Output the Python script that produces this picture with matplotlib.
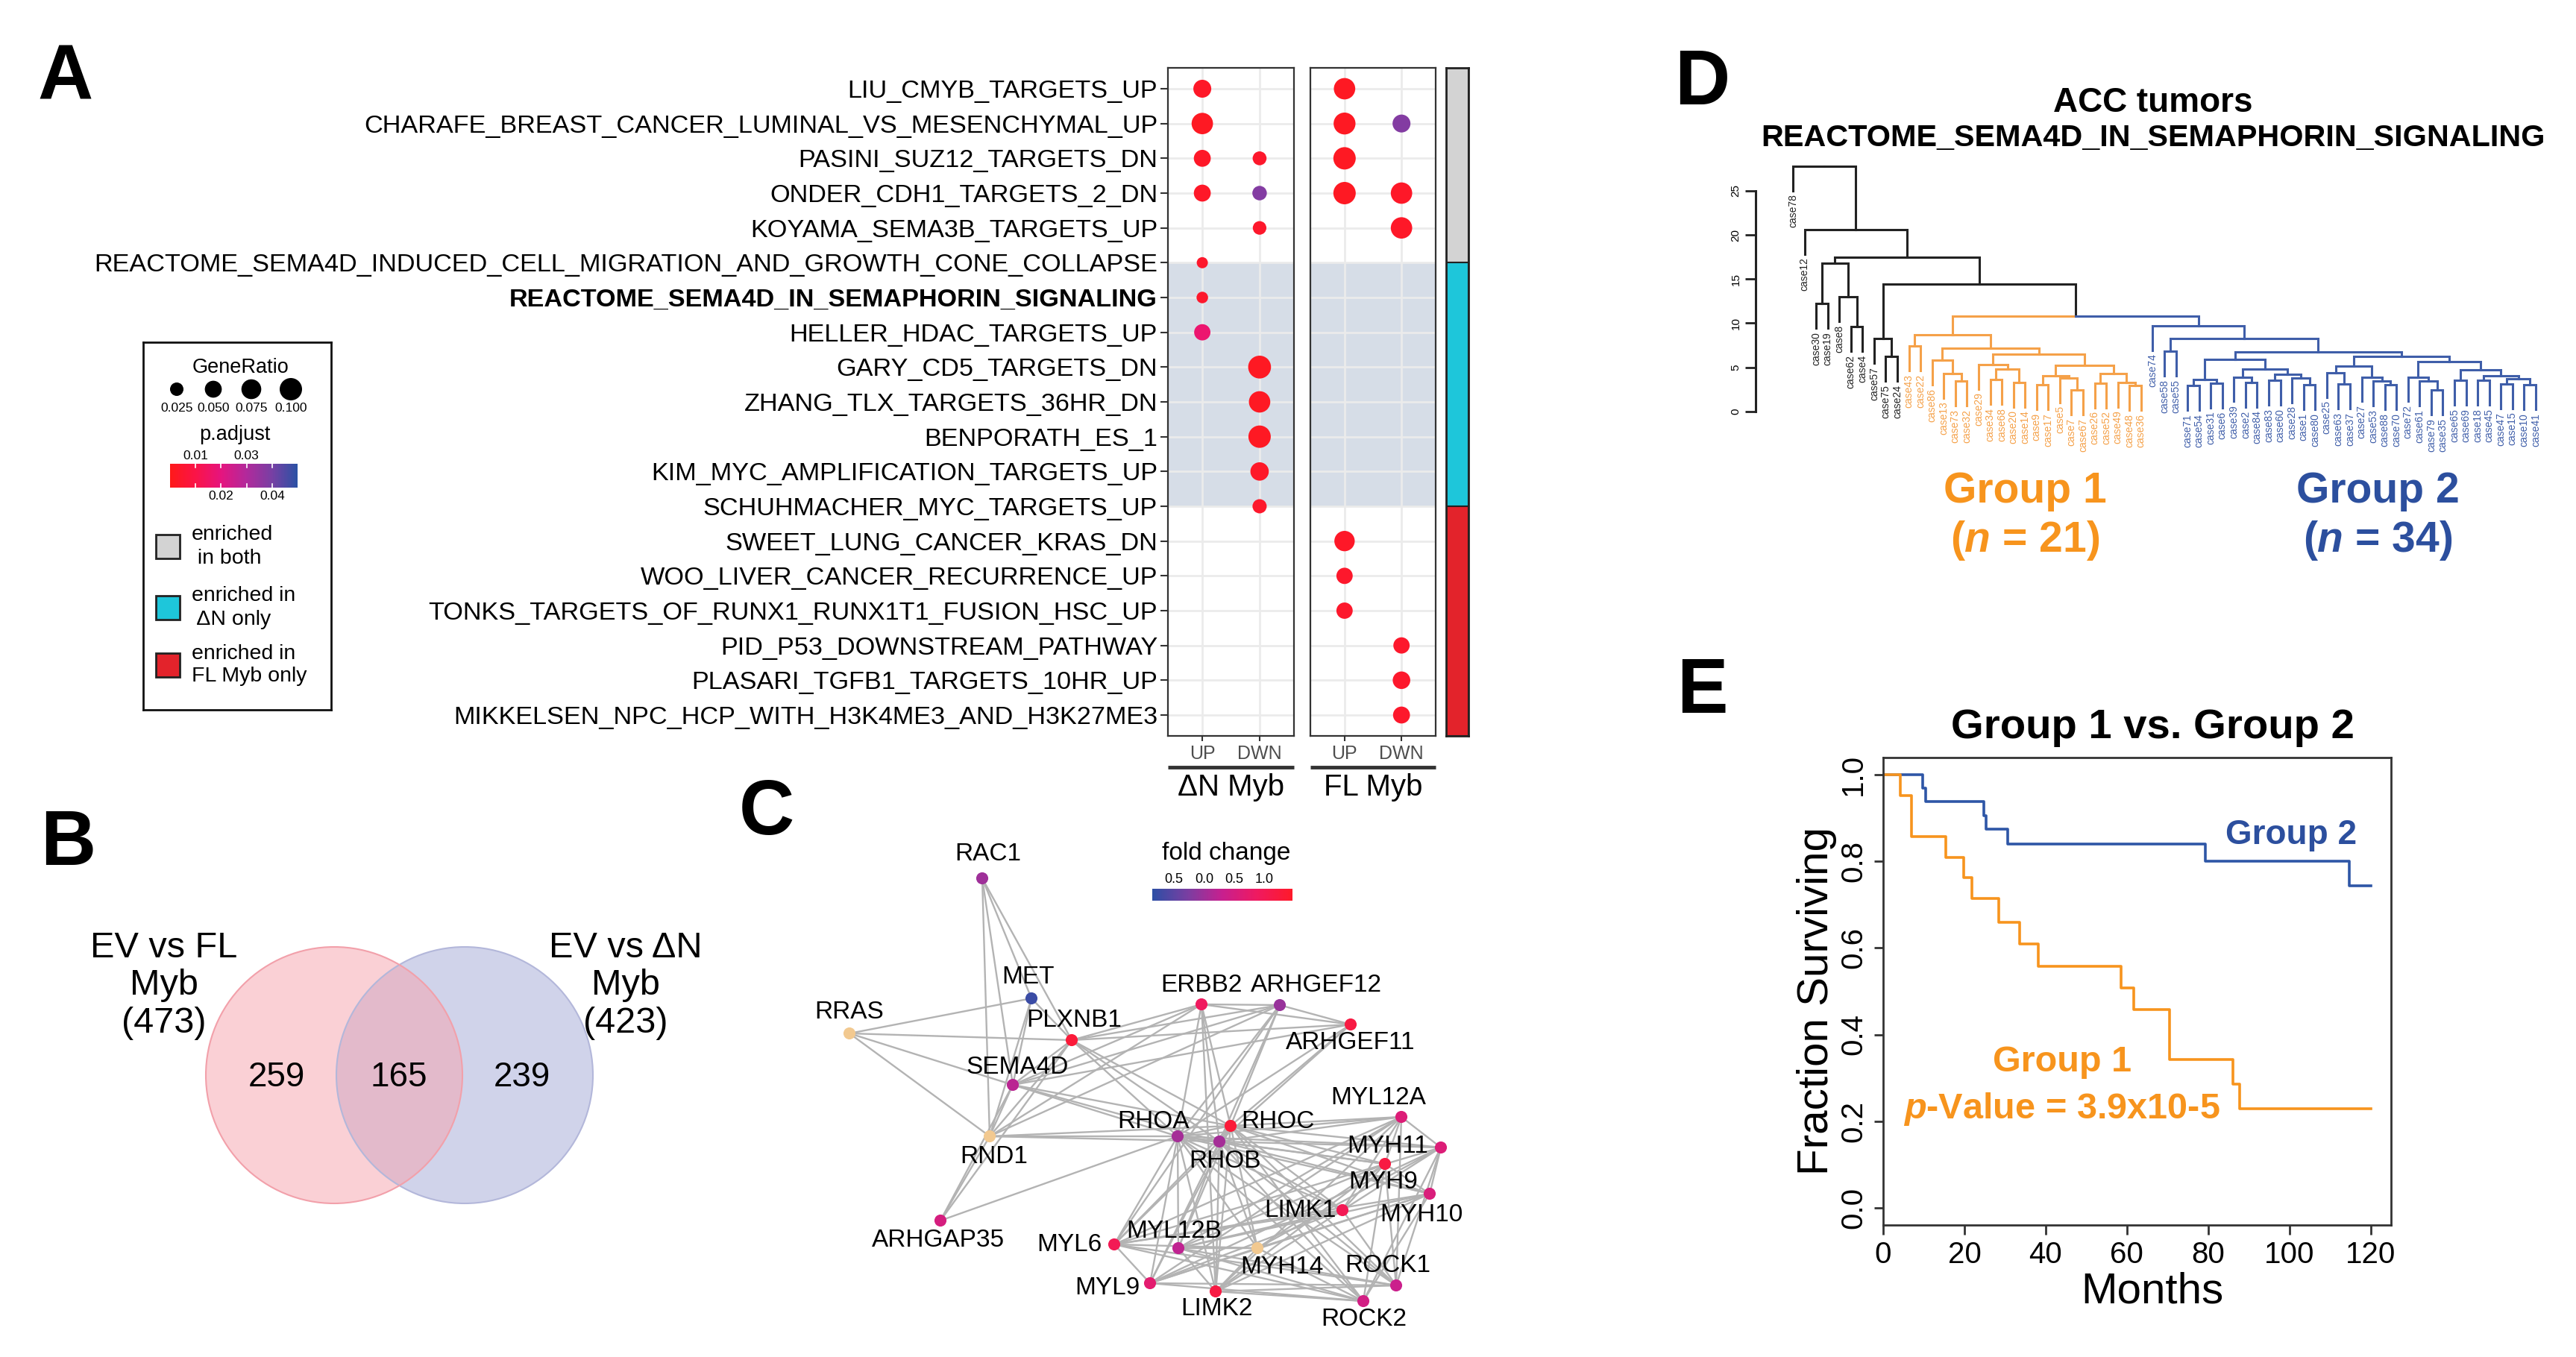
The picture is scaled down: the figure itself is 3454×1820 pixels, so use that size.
import numpy as np
import matplotlib
matplotlib.use("Agg")
import matplotlib.pyplot as plt
from matplotlib.colors import LinearSegmentedColormap, Normalize
from matplotlib.patches import Circle, Rectangle

plt.rcParams['font.family'] = ['Liberation Sans', 'DejaVu Sans']
plt.rcParams['mathtext.fontset'] = 'custom'
plt.rcParams['mathtext.it'] = 'Liberation Sans:italic:bold'
plt.rcParams['mathtext.rm'] = 'Liberation Sans:bold'

n = np.nan

# ---------------- A: enrichment dot plot ----------------
gene_sets = ['LIU_CMYB_TARGETS_UP',
             'CHARAFE_BREAST_CANCER_LUMINAL_VS_MESENCHYMAL_UP',
             'PASINI_SUZ12_TARGETS_DN',
             'ONDER_CDH1_TARGETS_2_DN',
             'KOYAMA_SEMA3B_TARGETS_UP',
             'REACTOME_SEMA4D_INDUCED_CELL_MIGRATION_AND_GROWTH_CONE_COLLAPSE',
             'REACTOME_SEMA4D_IN_SEMAPHORIN_SIGNALING',
             'HELLER_HDAC_TARGETS_UP',
             'GARY_CD5_TARGETS_DN',
             'ZHANG_TLX_TARGETS_36HR_DN',
             'BENPORATH_ES_1',
             'KIM_MYC_AMPLIFICATION_TARGETS_UP',
             'SCHUHMACHER_MYC_TARGETS_UP',
             'SWEET_LUNG_CANCER_KRAS_DN',
             'WOO_LIVER_CANCER_RECURRENCE_UP',
             'TONKS_TARGETS_OF_RUNX1_RUNX1T1_FUSION_HSC_UP',
             'PID_P53_DOWNSTREAM_PATHWAY',
             'PLASARI_TGFB1_TARGETS_10HR_UP',
             'MIKKELSEN_NPC_HCP_WITH_H3K4ME3_AND_H3K27ME3']
highlight_set = 'REACTOME_SEMA4D_IN_SEMAPHORIN_SIGNALING'
enrich_group = ['both'] * 5 + ['dN'] * 8 + ['FL'] * 6

dn_up_ratio = [0.058, 0.09, 0.05, 0.05, n, 0.012, 0.014, 0.045, n, n, n, n, n, n, n, n, n, n, n]
dn_up_padj = [0.003, 0.002, 0.003, 0.003, n, 0.004, 0.004, 0.017, n, n, n, n, n, n, n, n, n, n, n]
dn_dwn_ratio = [n, n, 0.028, 0.032, 0.026, n, n, n, 0.105, 0.09, 0.1, 0.062, 0.03, n, n, n, n, n, n]
dn_dwn_padj = [n, n, 0.004, 0.038, 0.004, n, n, n, 0.002, 0.002, 0.002, 0.003, 0.004, n, n, n, n, n, n]
fl_up_ratio = [0.09, 0.095, 0.1, 0.1, n, n, n, n, n, n, n, n, n, 0.08, 0.045, 0.045, n, n, n]
fl_up_padj = [0.002, 0.002, 0.002, 0.002, n, n, n, n, n, n, n, n, n, 0.003, 0.004, 0.004, n, n, n]
fl_dwn_ratio = [n, 0.058, n, 0.09, 0.09, n, n, n, n, n, n, n, n, n, n, n, 0.045, 0.055, 0.05]
fl_dwn_padj = [n, 0.038, n, 0.003, 0.003, n, n, n, n, n, n, n, n, n, n, n, 0.004, 0.004, 0.004]
direction_labels = ['UP', 'DWN']
legend_ratios = [0.025, 0.050, 0.075, 0.100]
legend_ratio_labels = ['0.025', '0.050', '0.075', '0.100']
legend_padj_ticks = [0.01, 0.02, 0.03, 0.04]
group_legend = [('both', 'enriched\n in both'), ('dN', 'enriched in\n ΔN only'), ('FL', 'enriched in\nFL Myb only')]

# ---------------- B: Venn ----------------
venn_left_label = 'EV vs FL\nMyb\n(473)'
venn_right_label = 'EV vs ΔN\nMyb\n(423)'
venn_counts = [259, 165, 239]

# ---------------- C: network ----------------
genes = ['RAC1', 'MET', 'RRAS', 'PLXNB1', 'SEMA4D', 'ERBB2', 'ARHGEF12', 'ARHGEF11',
         'RND1', 'RHOA', 'RHOC', 'RHOB', 'MYL12A', 'MYH11', 'MYH9', 'MYH10', 'LIMK1',
         'ARHGAP35', 'MYL6', 'MYL12B', 'MYH14', 'ROCK1', 'MYL9', 'LIMK2', 'ROCK2']
layout_x = [1317, 1383, 1139, 1437, 1358, 1611, 1716, 1811, 1327, 1579, 1650, 1635, 1879,
            1932, 1857, 1917, 1800, 1261, 1494, 1580, 1686, 1872, 1542, 1630, 1828]
layout_y = [1178, 1339, 1386, 1395, 1455, 1347, 1348, 1374, 1524, 1524, 1510, 1531, 1498,
            1539, 1561, 1601, 1623, 1637, 1669, 1674, 1674, 1724, 1721, 1732, 1745]
fold_change = [0.0, -0.75, n, 1.3, 0.2, 0.9, -0.05, 1.2, n, 0.05, 1.3, 0.05, 0.6,
               0.6, 1.2, 0.55, 1.0, 0.5, 1.0, 0.25, n, 0.35, 0.7, 1.2, 0.45]
fc_ticks = [-0.5, 0.0, 0.5, 1.0]
fc_tick_labels = ['0.5', '0.0', '0.5', '1.0']
hub = ['RHOA', 'RHOB', 'RHOC']
myo = ['MYL12A', 'MYH11', 'MYH9', 'MYH10', 'LIMK1', 'MYL6', 'MYL12B', 'MYH14',
       'ROCK1', 'MYL9', 'LIMK2', 'ROCK2']
edges = [('RAC1', 'MET'), ('RAC1', 'PLXNB1'), ('RAC1', 'SEMA4D'), ('RAC1', 'RND1'),
         ('RRAS', 'MET'), ('RRAS', 'PLXNB1'), ('RRAS', 'SEMA4D'), ('RRAS', 'RND1'),
         ('MET', 'PLXNB1'), ('MET', 'SEMA4D'), ('MET', 'RND1'),
         ('ARHGAP35', 'SEMA4D'), ('ARHGAP35', 'PLXNB1'), ('ARHGAP35', 'RND1'), ('ARHGAP35', 'RHOA'),
         ('PLXNB1', 'SEMA4D'), ('PLXNB1', 'RND1'), ('PLXNB1', 'ERBB2'), ('PLXNB1', 'ARHGEF12'),
         ('PLXNB1', 'ARHGEF11'), ('PLXNB1', 'RHOA'), ('PLXNB1', 'RHOB'), ('PLXNB1', 'RHOC'),
         ('SEMA4D', 'RND1'), ('SEMA4D', 'ERBB2'), ('SEMA4D', 'ARHGEF12'), ('SEMA4D', 'ARHGEF11'),
         ('SEMA4D', 'RHOA'), ('SEMA4D', 'RHOB'), ('SEMA4D', 'RHOC'),
         ('RND1', 'ERBB2'), ('RND1', 'ARHGEF12'), ('RND1', 'RHOA'), ('RND1', 'RHOB'), ('RND1', 'RHOC'),
         ('ERBB2', 'ARHGEF12'), ('ERBB2', 'ARHGEF11'), ('ERBB2', 'RHOA'), ('ERBB2', 'RHOB'),
         ('ERBB2', 'RHOC'), ('ERBB2', 'LIMK2'),
         ('ARHGEF12', 'ARHGEF11'), ('ARHGEF12', 'RHOA'), ('ARHGEF12', 'RHOB'), ('ARHGEF12', 'RHOC'),
         ('ARHGEF12', 'MYL6'), ('ARHGEF11', 'RHOA'), ('ARHGEF11', 'RHOB'), ('ARHGEF11', 'RHOC'),
         ('RHOA', 'RHOB'), ('RHOA', 'RHOC'), ('RHOB', 'RHOC')]
edges += [(h, m) for h in hub for m in myo]
edges += [(myo[i], myo[j]) for i in range(len(myo)) for j in range(i + 1, len(myo))
          if (i + j) % 4 != 3]

# ---------------- D: dendrogram ----------------
orange_tree = (8.7,
               (7.4, 'case43', 'case22'),
               (7.2,
                (5.8, 'case86', (4.3, 'case13', (3.4, 'case73', 'case32'))),
                (6.5,
                 (5.3, 'case29', (4.8, (3.6, 'case34', 'case68'), (3.3, 'case20', 'case14'))),
                 (5.2,
                  (4.0, (3.0, 'case9', 'case17'), (3.8, 'case5', (2.4, 'case7', 'case67'))),
                  (4.3, (3.2, 'case26', 'case52'), (3.3, 'case49', (2.9, 'case48', 'case36')))))))
blue_tree = (9.7, 'case74',
             (8.25,
              (6.8, 'case58', 'case55'),
              (6.7,
               (5.9,
                (3.6, (2.9, 'case71', 'case54'), (3.2, 'case31', 'case6')),
                (4.8, (3.9, 'case39', (3.3, 'case2', 'case84')),
                 (4.2, (3.5, 'case83', 'case60'), (3.8, 'case28', (3.0, 'case1', 'case80'))))),
               (6.2,
                (5.1, (4.4, 'case25', (3.1, 'case63', 'case37')),
                 (3.9, 'case27', (3.4, 'case53', (3.0, 'case88', 'case70')))),
                (5.6,
                 (3.9, 'case72', (3.4, 'case61', (2.4, 'case79', 'case35'))),
                 (4.7, (3.5, 'case65', 'case69'),
                  (4.0, (3.5, 'case18', 'case45'),
                   (3.7, (3.1, 'case47', 'case15'), (3.0, 'case10', 'case41')))))))))
full_tree = (27.8, 'case78',
             (20.6, 'case12',
              (17.5,
               (16.8, (12.2, 'case30', 'case19'), (13.0, 'case8', (9.6, 'case62', 'case4'))),
               (14.4, (8.25, 'case57', (6.2, 'case75', 'case24')),
                (10.8, orange_tree, blue_tree)))))
group1_label = 'Group 1'
group2_label = 'Group 2'
group1_n = 21
group2_n = 34

# ---------------- E: survival ----------------
g2_time = [0, 9.7, 10.4, 24.8, 25.4, 30.6, 79.3, 114.8, 120]
g2_surv = [1.0, 0.969, 0.938, 0.906, 0.875, 0.840, 0.800, 0.744, 0.744]
g1_time = [0, 4.3, 6.9, 15.4, 19.9, 21.8, 28.4, 33.5, 38.2, 58.6, 61.7, 70.5, 86.1, 87.8, 120]
g1_surv = [1.0, 0.952, 0.857, 0.810, 0.762, 0.714, 0.659, 0.610, 0.558, 0.508, 0.457,
           0.343, 0.286, 0.229, 0.229]
p_value_text = '3.9x10-5'

# ======================================================
W, H = 3455, 1820
fig = plt.figure(figsize=(W / 100, H / 100), dpi=100)


def px_axes(x0, y0, x1, y1):
    return fig.add_axes([x0 / W, 1 - y1 / H, (x1 - x0) / W, (y1 - y0) / H])


def px_text(x, y, s, **kw):
    return fig.text(x / W, 1 - y / H, s, **kw)


for letter, lx, ly in [('A', 88, 106), ('B', 91, 1134), ('C', 1028, 1093), ('D', 2282, 113), ('E', 2282, 930)]:
    px_text(lx, ly, letter, fontsize=74, fontweight='bold', ha='center', va='center')

padj_cmap = LinearSegmentedColormap.from_list(
    'padj', ['#ff1a1a', '#fb1448', '#e6157f', '#b22a9c', '#7840a4', '#2b52a5'])
group_colors = {'both': '#d3d3d3', 'dN': '#1ec6da', 'FL': '#e3232b'}


def dot_size(r):
    return (132 + 7680 * np.asarray(r)) / 1.929


rows = np.arange(1, len(gene_sets) + 1)
dn_rows = [i + 1 for i, g in enumerate(enrich_group) if g == 'dN']
panels = [(1566, 1735, 'ΔN Myb', [(dn_up_ratio, dn_up_padj), (dn_dwn_ratio, dn_dwn_padj)]),
          (1757, 1925, 'FL Myb', [(fl_up_ratio, fl_up_padj), (fl_dwn_ratio, fl_dwn_padj)])]
for k, (x0, x1, title, cols) in enumerate(panels):
    ax = px_axes(x0, 91, x1, 987)
    ax.axhspan(min(dn_rows), max(dn_rows), color='#d6dde7', lw=0, zorder=0)
    for j, (ratio, padj) in enumerate(cols):
        ratio = np.array(ratio)
        padj = np.array(padj)
        m = ~np.isnan(ratio)
        ax.scatter(np.full(m.sum(), j + 1), rows[m], s=dot_size(ratio[m]), c=padj[m],
                   cmap=padj_cmap, vmin=0, vmax=0.05, linewidths=0, zorder=3)
    ax.set_xlim(0.4, 2.6)
    ax.set_ylim(len(gene_sets) + 0.6, 0.4)
    ax.set_axisbelow(True)
    ax.grid(True, color='#ebebeb', lw=2)
    ax.set_xticks([1, 2])
    ax.set_xticklabels(direction_labels, fontsize=18, color='#4d4d4d')
    ax.tick_params(axis='x', length=5, width=1.5, color='#333333', pad=4)
    ax.set_yticks(rows)
    if k == 0:
        ax.set_yticklabels(gene_sets, fontsize=24.7)
        for t in ax.get_yticklabels():
            if t.get_text() == highlight_set:
                t.set_fontweight('bold')
        ax.tick_params(axis='y', length=7, width=1.5, color='#333333', pad=3)
    else:
        ax.tick_params(axis='y', length=0, labelleft=False)
    for s in ax.spines.values():
        s.set_color('#333333')
        s.set_linewidth(1.6)
    ax.plot([0, 1], [-0.047, -0.047], transform=ax.transAxes, clip_on=False,
            color='#333333', lw=3.5, solid_capstyle='butt')
    ax.text(0.5, -0.077, title, transform=ax.transAxes, ha='center', va='center', fontsize=29)

# side strip
ax = px_axes(1939, 91, 1969, 987)
bounds = [0.4, min(dn_rows), max(dn_rows), len(gene_sets) + 0.6]
for g, b0, b1 in zip(['both', 'dN', 'FL'], bounds[:-1], bounds[1:]):
    ax.bar(0, b1 - b0, bottom=b0, width=1, color=group_colors[g], edgecolor='#222222', lw=1.5)
ax.set_xlim(-0.5, 0.5)
ax.set_ylim(len(gene_sets) + 0.6, 0.4)
ax.set_xticks([])
ax.set_yticks([])
for s in ax.spines.values():
    s.set_color('#222222')
    s.set_linewidth(2)

# legend box
lg = px_axes(192, 459, 444, 952)
lg.set_xticks([])
lg.set_yticks([])
for s in lg.spines.values():
    s.set_linewidth(2)
    s.set_color('#111111')
lg.text(131, 34, 'GeneRatio', ha='center', va='center', fontsize=19.5)
lx = [45, 94, 145, 198]
lg.scatter(lx, [63] * 4, s=dot_size(legend_ratios), color='black', linewidths=0)
for x, t in zip(lx, legend_ratio_labels):
    lg.text(x, 89, t, ha='center', va='center', fontsize=12.5)
lg.text(123, 124, 'p.adjust', ha='center', va='center', fontsize=19.5)
cb_x0, cb_x1 = 36, 207
lg.imshow(np.linspace(0, 0.05, 256)[None, :], extent=[cb_x0, cb_x1, 195, 163],
          aspect='auto', cmap=padj_cmap, vmin=0, vmax=0.05)
for i, v in enumerate(legend_padj_ticks):
    x = cb_x0 + (v / 0.05) * (cb_x1 - cb_x0)
    lg.plot([x, x], [163, 168], color='white', lw=1.2)
    lg.plot([x, x], [190, 195], color='white', lw=1.2)
    if i % 2 == 0:
        lg.text(x, 152, f'{v:.2f}', ha='center', va='center', fontsize=12.5)
    else:
        lg.text(x, 207, f'{v:.2f}', ha='center', va='center', fontsize=12.5)
lg.set_xlim(0, 252)
lg.set_ylim(493, 0)
for (g, txt), yc in zip(group_legend, [274, 356, 433]):
    lg.add_patch(Rectangle((17, yc - 16), 32, 32, facecolor=group_colors[g], edgecolor='#222222', lw=2))
    lg.text(65, yc, txt, ha='left', va='center', fontsize=20.5, linespacing=1.25)

# ---------------- B ----------------
axb = px_axes(100, 1150, 900, 1750)
axb.set_xlim(0, 800)
axb.set_ylim(600, 0)
axb.axis('off')
axb.add_patch(Circle((523, 292), 172, facecolor='#a2a8d6', alpha=0.5, edgecolor='none'))
axb.add_patch(Circle((348, 292), 172, facecolor='#f7a3ad', alpha=0.5, edgecolor='none'))
axb.add_patch(Circle((523, 292), 172, facecolor='none', edgecolor='#b3b7da', lw=1.5))
axb.add_patch(Circle((348, 292), 172, facecolor='none', edgecolor='#f2a0aa', lw=1.5))
axb.text(120, 172, venn_left_label, ha='center', va='center', fontsize=35, linespacing=1.15)
axb.text(739, 172, venn_right_label, ha='center', va='center', fontsize=35, linespacing=1.15)
for x, c in zip([271, 435, 600], venn_counts):
    axb.text(x, 295, str(c), ha='center', va='center', fontsize=33)

# ---------------- C ----------------
axc = px_axes(1100, 1100, 2000, 1800)
axc.set_xlim(1100, 2000)
axc.set_ylim(1800, 1100)
axc.axis('off')
pos = {g: (x, y) for g, x, y in zip(genes, layout_x, layout_y)}
for a, b in edges:
    axc.plot([pos[a][0], pos[b][0]], [pos[a][1], pos[b][1]], color='#b3b3b3', lw=1.7, zorder=1)
fc_cmap = LinearSegmentedColormap.from_list(
    'fc', ['#2d4fa6', '#7a3fa2', '#c8208f', '#f01a60', '#ff1a2a'])
fc_norm = Normalize(-0.86, 1.47)
node_cols = ['#f2c990' if np.isnan(v) else fc_cmap(fc_norm(v)) for v in fold_change]
axc.scatter(layout_x, layout_y, s=135, c=node_cols, linewidths=0, zorder=3)
label_off = {'RAC1': (8, -32), 'MET': (-4, -28), 'RRAS': (0, -28), 'PLXNB1': (3, -26),
             'SEMA4D': (6, -23), 'ERBB2': (0, -25), 'ARHGEF12': (49, -26), 'ARHGEF11': (0, 25),
             'RND1': (6, 28), 'RHOA': (-32, -19), 'RHOC': (63, -5), 'RHOB': (8, 26),
             'MYL12A': (-31, -25), 'MYH11': (-71, -1), 'MYH9': (-2, 25), 'MYH10': (-11, 29),
             'LIMK1': (-57, 0), 'ARHGAP35': (-3, 27), 'MYL6': (-60, 0), 'MYL12B': (-6, -23),
             'MYH14': (33, 25), 'ROCK1': (-11, -26), 'MYL9': (-57, 6), 'LIMK2': (1, 23),
             'ROCK2': (1, 24)}
for g in genes:
    dx, dy = label_off[g]
    axc.text(pos[g][0] + dx, pos[g][1] + dy, g, ha='center', va='center', fontsize=24, zorder=4)
px_text(1644, 1144, 'fold change', ha='center', va='center', fontsize=24)
axcb = px_axes(1545, 1192, 1733, 1208)
axcb.imshow(np.linspace(-0.86, 1.47, 256)[None, :], extent=[-0.86, 1.47, 0, 1],
            aspect='auto', cmap=fc_cmap, norm=fc_norm)
axcb.xaxis.tick_top()
axcb.set_xticks(fc_ticks)
axcb.set_xticklabels(fc_tick_labels, fontsize=13)
axcb.tick_params(axis='x', length=0, pad=3)
axcb.set_yticks([])
for s in axcb.spines.values():
    s.set_visible(False)

# ---------------- D ----------------
orange = '#f5a149'
blue = '#3f5ea9'
leaf_group = {}


def tag(node, grp):
    if isinstance(node, str):
        leaf_group[node] = grp
    else:
        tag(node[1], grp)
        tag(node[2], grp)


tag(full_tree, 'black')
tag(orange_tree, 'g1')
tag(blue_tree, 'g2')
dcol = {'black': '#222222', 'g1': orange, 'g2': blue}
order = []


def place(node):
    if isinstance(node, str):
        order.append(node)
        return {'x': len(order) - 1, 'h': None, 'name': node, 'grp': leaf_group[node], 'kids': []}
    h, a, b = node
    ka, kb = place(a), place(b)
    grp = ka['grp'] if ka['grp'] == kb['grp'] else 'black'
    return {'x': (ka['x'] + kb['x']) / 2, 'h': h, 'grp': grp, 'kids': [ka, kb]}


root = place(full_tree)
hang = 0.1 * root['h']
n_leaves = len(order)
x_first, x_step = 2404, (3400 - 2404) / (n_leaves - 1)
h_zero, h_px = 551.7, 11.83
axd = px_axes(2330, 200, 3430, 660)
axd.set_xlim((2330 - x_first) / x_step, (3430 - x_first) / x_step)
axd.set_ylim((h_zero - 660) / h_px, (h_zero - 200) / h_px)


def draw(nd):
    for kid in nd['kids']:
        c = dcol[kid['grp']]
        kh = kid['h'] if kid['h'] is not None else nd['h'] - hang
        axd.plot([nd['x'], kid['x'], kid['x']], [nd['h'], nd['h'], kh], color=c, lw=2.2,
                 solid_joinstyle='miter')
        if kid['h'] is None:
            axd.text(kid['x'], kh - 0.4, kid['name'], rotation=90, ha='center', va='top',
                     fontsize=10, color=c)
        else:
            draw(kid)


draw(root)
for s in ['top', 'right', 'bottom']:
    axd.spines[s].set_visible(False)
axd.spines['left'].set_position(('data', (2354 - x_first) / x_step))
axd.spines['left'].set_bounds(0, 25)
axd.spines['left'].set_linewidth(2.2)
axd.spines['left'].set_color('#222222')
axd.set_xticks([])
axd.set_yticks(range(0, 30, 5))
axd.set_yticklabels([str(v) for v in range(0, 30, 5)], rotation=90, va='center', fontsize=11)
axd.tick_params(axis='y', length=10, width=2, color='#222222', pad=4)
px_text(2887, 138, 'ACC tumors', ha='center', va='center', fontsize=33, fontweight='bold')
px_text(2887, 185, 'REACTOME_SEMA4D_IN_SEMAPHORIN_SIGNALING', ha='center', va='center',
        fontsize=29.8, fontweight='bold')
g1_color = '#f7941d'
g2_color = '#2c4f9e'
px_text(2715, 659, group1_label, ha='center', va='center', fontsize=41, fontweight='bold', color=g1_color)
px_text(2715, 725, r'($\mathit{n}$ = %d)' % group1_n, ha='center', va='center', fontsize=41,
        fontweight='bold', color=g1_color)
px_text(3188, 659, group2_label, ha='center', va='center', fontsize=41, fontweight='bold', color=g2_color)
px_text(3188, 725, r'($\mathit{n}$ = %d)' % group2_n, ha='center', va='center', fontsize=41,
        fontweight='bold', color=g2_color)

# ---------------- E ----------------
axe = px_axes(2525, 1016, 3206, 1643)
axe.step(g2_time, g2_surv, where='post', color='#2e56a6', lw=2.6)
axe.step(g1_time, g1_surv, where='post', color=g1_color, lw=2.6)
axe.set_xlim(0, 125)
axe.set_ylim(-0.04, 1.04)
axe.set_xticks(range(0, 121, 20))
axe.set_xticklabels([str(v) for v in range(0, 121, 20)], fontsize=29)
axe.set_yticks(np.arange(0, 1.01, 0.2))
axe.set_yticklabels([f'{v:.1f}' for v in np.arange(0, 1.01, 0.2)], fontsize=29, rotation=90, va='center')
axe.tick_params(direction='out', length=9, width=2, color='#333333', pad=6)
for s in axe.spines.values():
    s.set_linewidth(2)
    s.set_color('#333333')
axe.text(100.5, 0.86, group2_label, ha='center', va='center', fontsize=33, fontweight='bold',
         color='#2c4f9e')
axe.text(44, 0.336, group1_label, ha='center', va='center', fontsize=35, fontweight='bold',
         color=g1_color)
axe.text(44, 0.227, r'$\mathit{p}$-Value = ' + p_value_text, ha='center', va='center',
         fontsize=35, fontweight='bold', color=g1_color)
px_text(2886, 976, 'Group 1 vs. Group 2', ha='center', va='center', fontsize=40.5, fontweight='bold')
px_text(2436, 1343, 'Fraction Surviving', ha='center', va='center', fontsize=42, rotation=90)
px_text(2886, 1733, 'Months', ha='center', va='center', fontsize=42)

fig.savefig('out.png', dpi=100)
